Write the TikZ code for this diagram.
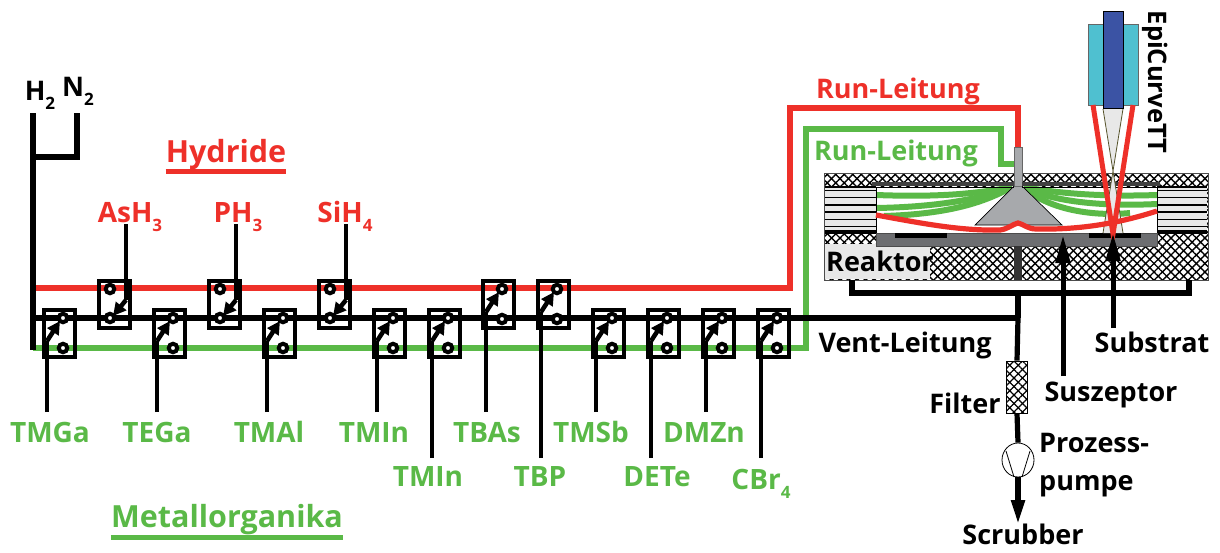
\documentclass[tikz,border=0pt]{standalone}
\usepackage{fontspec}
\setmainfont{Open Sans}
\usetikzlibrary{arrows.meta,patterns.meta,calc,shapes.geometric}
\definecolor{rd}{HTML}{EE3029}
\definecolor{gn}{HTML}{5AB947}
\definecolor{cone}{HTML}{A7A9AC}
\definecolor{susz}{HTML}{6D6E71}
\definecolor{pale}{HTML}{E8E8E8}
\definecolor{cyn}{HTML}{4FC0D0}
\definecolor{blu}{HTML}{3B53A4}
\newcommand{\sbs}[1]{\raisebox{-.32em}{\fontsize{17}{17}\selectfont #1}}
\tikzset{
  x=1pt,y=-1pt,
  lbl/.style={font=\bfseries\fontsize{27}{30}\selectfont,inner sep=0pt,text height=18pt,text depth=5pt,yshift=-5pt},
  lr/.style={lbl,text=rd},
  lg/.style={lbl,text=gn},
  lk/.style={lbl,text=black},
  big/.style={font=\bfseries\fontsize{30.5}{33}\selectfont},
  gas/.style={font=\bfseries\fontsize{28}{30}\selectfont},
  pipe/.style={line width=5.2pt,line join=miter},
  swbox/.style={draw=black,line width=4pt,minimum width=31pt,minimum height=47pt,inner sep=0pt,fill=none},
  port/.style={circle,draw=black,line width=4pt,fill=white,minimum size=8.5pt,inner sep=0pt},
  inlet/.style={line width=4.5pt,black,line join=miter},
  tipped/.style={inlet,-{Triangle[length=13pt,width=13pt]}},
  flowg/.style={gn,line width=6pt},
}
\begin{document}
\begin{tikzpicture}
\useasboundingbox (0,0) rectangle (1220,552);
% === reactor body ===
\fill[white] (824,173) rectangle (1208,280);
\fill[pattern={Lines[angle=45,distance=6pt,line width=1.4pt]}] (824,173) rectangle (1208,280);
\fill[pattern={Lines[angle=-45,distance=6pt,line width=1.4pt]}] (824,173) rectangle (1208,280);
\draw[line width=.9pt,black!70] (824,173) rectangle (1208,280);
\fill[pale] (825,244) rectangle (930,279);
\foreach \xa/\xb in {825/876,1157/1207}{
  \fill[pale] (\xa,187) rectangle (\xb,233);
  \foreach \yy/\w in {187/1.5,190/1,197/.6,205/1.2,212/1.2,219/.6,226/.8,231/1.2,233/1.2}
    \draw[line width=\w pt] (\xa,\yy) -- (\xb,\yy);
}
\fill[white] (876,187) rectangle (1157,233);
% green flow
\draw[flowg] (1012,187) .. controls (970,195) and (930,197) .. (876,195);
\draw[flowg] (1012,187) .. controls (985,198) and (940,207) .. (876,208);
\draw[flowg] (1012,187) .. controls (985,202) and (950,214) .. (884,216);
\draw[flowg] (1024,187) .. controls (1055,193) and (1100,197) .. (1157,195);
\draw[flowg] (1024,187) .. controls (1048,200) and (1095,207) .. (1157,204);
\draw[flowg] (1024,187) .. controls (1045,208) and (1090,217) .. (1130,213);
% nozzle
\fill[cone,draw=black,line width=.7pt] (975,225) -- (1014,186) -- (1022,186) -- (1062,225) -- cycle;
\fill[cone,draw=black!60,line width=.7pt] (1014,186) -- (1014,147) -- (1022,147) -- (1022,186);
\fill[black!75] (872,182) rectangle (1014,186);
\fill[black!75] (1022,182) rectangle (1160,186);
% cavity walls
\draw[line width=1pt] (876,187) -- (876,233) -- (1157,233) -- (1157,187);
\draw[line width=.8pt] (876,187) -- (1014,187) (1022,187) -- (1157,187);
% susceptor
\fill[susz,draw=black!70,line width=.6pt] (876,233) rectangle (1157,246);
\fill[black] (895,233) rectangle (947,238);
\fill[black] (1089,233) rectangle (1141,238);
\fill[black!80] (1014,246) rectangle (1022,280);
% measurement beam
\fill[pale] (1103,109) -- (1123,109) -- (1113,171) -- (1123,233) -- (1103,233) -- (1113,171) -- cycle;
\draw[black!50!olive,line width=.8pt] (1103,109) -- (1123,233) (1123,109) -- (1103,233);
% red flow
\draw[rd,line width=5.2pt] (876,215) .. controls (920,223) and (960,231) .. (1000,230) .. controls (1008,229) and (1013,224) .. (1018,223) .. controls (1023,224) and (1028,229) .. (1036,229) .. controls (1080,230) and (1120,223) .. (1157,211);
\coordinate (runR) at (1018,147);
\coordinate (runG) at (1014,164);
\coordinate (origin) at (33,288);
% === pipes ===
\draw[pipe,rd] (origin) -- (790,288) -- (790,108) -- (1018,108) -- (runR);
\draw[pipe,gn] (33,348) -- (806,348) -- (806,129) -- (1001,129) -- (1001,164) -- (runG);
\coordinate (mainT) at (1018,318);
\draw[pipe,black] (33,113) -- (33,350);
\draw[pipe,black] (33,157) -- (77,157) -- (77,113);
\draw[pipe,black] (33,318) -- (mainT);
\draw[pipe,black] (852,280) -- (852,293) -- (1189,293) -- (1189,280);
\draw[pipe,black] (1018,293) -- (mainT);
% === filter and pump ===
\node[draw=black,line width=.8pt,minimum width=21pt,minimum height=52pt,inner sep=0pt,fill=white] (filter) at (1017,387) {};
\fill[pattern={Lines[angle=45,distance=6pt,line width=1.2pt]}] (1007,361) rectangle (1027,413);
\fill[pattern={Lines[angle=-45,distance=6pt,line width=1.2pt]}] (1007,361) rectangle (1027,413);
\node[draw=black,fill=white,line width=.8pt,ellipse,minimum width=32pt,minimum height=34pt,inner sep=0pt] (pump) at (1018,460) {};
\draw[line width=.8pt] (1006,451) -- (1014,477) (1030,451) -- (1022,477);
\draw[pipe] (mainT) -- (filter.north);
\draw[pipe] (filter.south) -- (pump.north);
\coordinate (scrub) at (1018,524);
\draw[line width=5.2pt,-{Triangle[length=24pt,width=13pt]}] (pump.south) -- (scrub);
% === EpiCurve head ===
\node[draw=black!60,fill=cyn,line width=.7pt,minimum width=50pt,minimum height=81pt,inner sep=0pt] (head) at (1113,65) {};
\node[draw=black,fill=blu,line width=.7pt,minimum width=20pt,minimum height=97pt,inner sep=0pt] (lens) at (1113,59.5) {};
\coordinate (spot) at (1113,234);
\draw[rd,line width=5pt] (1093,105) -- (spot) -- (1133,105);
% arrows
\coordinate (suszTip) at (1063,235);
\coordinate (subsTip) at (1113,233);
\coordinate (suszEnd) at (1063,376);
\coordinate (subsEnd) at (1113,328);
\draw[line width=5pt,-{Triangle[length=28pt,width=14pt]}] (suszEnd) -- (suszTip);
\draw[line width=5pt,-{Triangle[length=28pt,width=14pt]}] (subsEnd) -- (subsTip);
% === switches: metal organics to run/vent, lower ===
\foreach \n/\xx/\yend/\txt/\tx/\ty in {
 a/42/412/TMGa/50/431, b/152/412/TEGa/157/431, c/262/412/TMAl/269/431, d/372/412/TMIn/374/431,
 e/427/458/TMIn/428/475, h/591/412/TMSb/591/431, i/646/458/DETe/657/475, j/701/412/DMZn/704/431,
 k/756/458/CBr\sbs{4}/761/478}{
  \node[swbox] (sw\n) at (\xx+17,333) {};
  \node[port] (up\n) at (\xx+21,318) {};
  \node[port] (lo\n) at (\xx+21,348) {};
  \node[lg,gas] (lab\n) at (\tx,\ty) {\txt};
  \coordinate (end\n) at (\xx+5,\yend);
  \coordinate (knee\n) at (\xx+5,341);
  \draw[inlet] (end\n) -- (knee\n);
  \draw[tipped] (knee\n) -- (\xx+18,321);
}
% === switches: metal organics, upper ===
\foreach \n/\xx/\yend/\txt/\tx/\ty in {f/481/412/TBAs/487/431, g/536/458/TBP/540/475}{
  \node[swbox] (sw\n) at (\xx+17,304) {};
  \node[port] (up\n) at (\xx+21,289) {};
  \node[port] (lo\n) at (\xx+21,319) {};
  \node[lg,gas] (lab\n) at (\tx,\ty) {\txt};
  \coordinate (end\n) at (\xx+5,\yend);
  \coordinate (knee\n) at (\xx+5,312);
  \draw[inlet] (end\n) -- (knee\n);
  \draw[tipped] (knee\n) -- (\xx+18,292);
}
% === switches: hydrides ===
\foreach \n/\xx/\yend/\txt/\tx in {p/97/224/AsH\sbs{3}/130, q/207/224/PH\sbs{3}/238, r/317/224/SiH\sbs{4}/345}{
  \node[swbox] (sw\n) at (\xx+17,304) {};
  \node[port] (up\n) at (\xx+13,289) {};
  \node[port] (lo\n) at (\xx+13,318) {};
  \node[lr,gas] (lab\n) at (\tx,211) {\txt};
  \coordinate (end\n) at (\xx+29,\yend);
  \coordinate (knee\n) at (\xx+29,300);
  \draw[inlet] (end\n) -- (knee\n);
  \draw[tipped] (knee\n) -- (\xx+16,316);
}
% === labels ===
\node[lk] (h2) at (40,89) {H\sbs{2}};
\node[lk] (n2) at (78,85) {N\sbs{2}};
\node[lr] (rl) at (898,87) {Run-Leitung};
\node[lg] (gl) at (896,149) {Run-Leitung};
\node[lr,big] (hyd) at (226,151) {Hydride};
\draw[rd,line width=4.5pt] (hyd.south west) ++(0,4) -- ($(hyd.south east)+(0,4)$);
\node[lg,big] (met) at (227,516) {Metallorganika};
\draw[gn,line width=4.5pt] (met.south west) ++(0,5) -- ($(met.south east)+(0,5)$);
\node[lk] (vent) at (905,341) {Vent-Leitung};
\node[lk] (filt) at (965,402) {Filter};
\node[lk] (susl) at (1111,390) {Suszeptor};
\node[lk] (subl) at (1152,341) {Substrat};
\node[lk,anchor=west] (pr1) at (1039,441) {Prozess-};
\node[lk,anchor=west] (pr2) at (1039,479) {pumpe};
\node[lk] (scr) at (1023,533) {Scrubber};
\node[lk,anchor=west] (rea) at (826,260) {Reaktor};
\node[lk,rotate=-90,font=\bfseries\fontsize{25.5}{28}\selectfont] (epi) at (1155,77) {EpiCurveTT};
\end{tikzpicture}
\end{document}
